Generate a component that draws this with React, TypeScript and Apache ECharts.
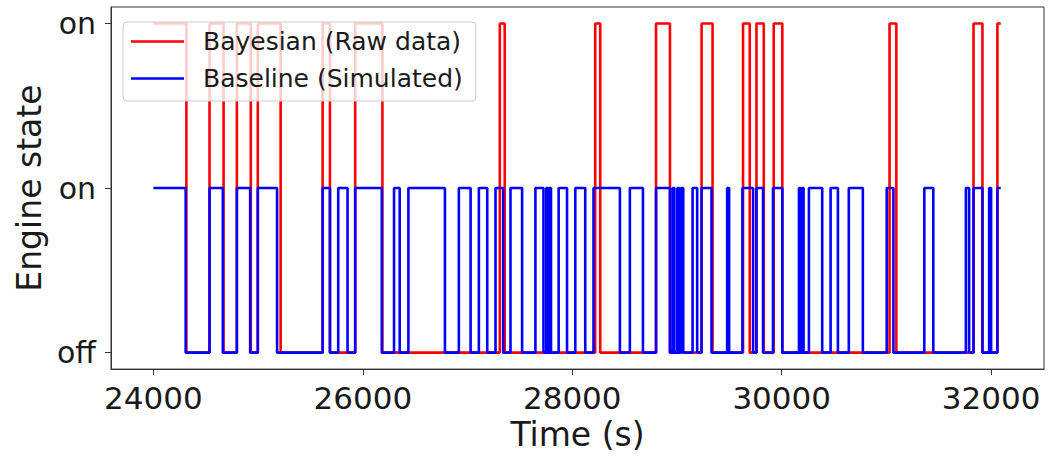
import React, { useEffect, useRef } from "react";
import * as echarts from "echarts";

// Step series: [time (s), state] – state holds from that time until the next point
const bayesianTimes = [24000, 24315, 24536, 24670, 24797, 24930, 24997, 25215, 25616, 25686, 25927, 26187, 27308, 27355, 28219, 28267, 28800, 28933, 29235, 29340, 29631, 29695, 29759, 29829, 29924, 30006, 31030, 31095, 31832, 31917, 32060, 32092];
const bayesianStates = [2, 0, 2, 0, 2, 0, 2, 0, 2, 0, 2, 0, 2, 0, 2, 0, 2, 0, 2, 0, 2, 0, 2, 0, 2, 0, 2, 0, 2, 0, 2, 2];

const baselineTimes = [24000, 24308, 24536, 24663, 24797, 24924, 24997, 25181, 25616, 25686, 25765, 25854, 25927, 26181, 26298, 26352, 26435, 26784, 26917, 27029, 27108, 27188, 27267, 27340, 27410, 27521, 27648, 27725, 27752, 27765, 27778, 27797, 27870, 27950, 28029, 28124, 28203, 28455, 28550, 28675, 28800, 28933, 28959, 28975, 29003, 29022, 29038, 29060, 29149, 29193, 29235, 29330, 29479, 29498, 29625, 29727, 29759, 29822, 29917, 30006, 30165, 30181, 30190, 30209, 30260, 30387, 30467, 30537, 30641, 30775, 31003, 31067, 31362, 31448, 31759, 31790, 31832, 31917, 31981, 32000, 32060, 32092];
const baselineStates = [1, 0, 1, 0, 1, 0, 1, 0, 1, 0, 1, 0, 1, 0, 1, 0, 1, 0, 1, 0, 1, 0, 1, 0, 1, 0, 1, 0, 1, 0, 1, 0, 1, 0, 1, 0, 1, 0, 1, 0, 1, 0, 1, 0, 1, 0, 1, 0, 1, 0, 1, 0, 1, 0, 1, 0, 1, 0, 1, 0, 1, 0, 1, 0, 1, 0, 1, 0, 1, 0, 1, 0, 1, 0, 1, 0, 1, 0, 1, 0, 1, 1];

const xTicks = [24000, 26000, 28000, 30000, 32000];
const yTicks = [0, 1, 2];
const yTickLabels = ["off", "on", "on"];

const seriesNames = ["Bayesian (Raw data)", "Baseline (Simulated)"];

const FONT = "DejaVu Sans";

export default function App() {
  const ref = useRef<HTMLDivElement>(null);
  useEffect(() => {
    if (!ref.current) return;
    const chart = echarts.init(ref.current, null, { renderer: "svg" });
    const bay = bayesianTimes.map((t, i) => [t, bayesianStates[i]]);
    const base = baselineTimes.map((t, i) => [t, baselineStates[i]]);
    chart.setOption({
      animation: false,
      backgroundColor: "#ffffff",
      grid: {
        left: 111,
        right: 5,
        top: 7,
        bottom: 84,
        show: true,
        borderColor: "#333333",
        borderWidth: 1,
        backgroundColor: "transparent",
      },
      legend: {
        orient: "vertical",
        left: 123,
        top: 22,
        data: seriesNames,
        icon: "rect",
        itemWidth: 53,
        itemHeight: 2.6,
        itemGap: 12,
        padding: [7, 13, 10, 8],
        backgroundColor: "rgba(255,255,255,0.8)",
        borderColor: "#cccccc",
        borderWidth: 1,
        borderRadius: 4,
        textStyle: {
          fontFamily: FONT,
          fontSize: 25,
          lineHeight: 25,
          color: "#1a1a1a",
          padding: [0, 0, 0, 14],
        },
        z: 10,
      },
      xAxis: {
        type: "value",
        min: 23595,
        max: 32505,
        name: "Time (s)",
        nameLocation: "middle",
        nameGap: 48,
        nameTextStyle: { fontFamily: FONT, fontSize: 33, color: "#1a1a1a" },
        axisLine: { show: true, onZero: false, lineStyle: { color: "#333333" } },
        axisTick: { show: true, length: 6, customValues: xTicks, lineStyle: { color: "#333333" } },
        axisLabel: {
          customValues: xTicks,
          formatter: (v: number) => String(v),
          fontFamily: FONT,
          fontSize: 31,
          color: "#1a1a1a",
          margin: 13,
        },
        splitLine: { show: false },
      },
      yAxis: {
        type: "value",
        min: -0.1,
        max: 2.1,
        name: "Engine state",
        nameLocation: "middle",
        nameRotate: 90,
        nameGap: 64,
        nameTextStyle: { fontFamily: FONT, fontSize: 33, color: "#1a1a1a" },
        axisLine: { show: true, onZero: false, lineStyle: { color: "#333333" } },
        axisTick: { show: true, length: 6, customValues: yTicks, lineStyle: { color: "#333333" } },
        axisLabel: {
          customValues: yTicks,
          formatter: (v: number) => yTickLabels[yTicks.indexOf(Math.round(v))] ?? "",
          fontFamily: FONT,
          fontSize: 30,
          color: "#1a1a1a",
          margin: 15,
        },
        splitLine: { show: false },
      },
      series: [
        {
          name: seriesNames[0],
          type: "line",
          step: "end",
          data: bay,
          showSymbol: false,
          symbol: "none",
          lineStyle: { color: "#ff0000", width: 2.6 },
          itemStyle: { color: "#ff0000" },
          z: 2,
        },
        {
          name: seriesNames[1],
          type: "line",
          step: "end",
          data: base,
          showSymbol: false,
          symbol: "none",
          lineStyle: { color: "#0000ff", width: 2.6 },
          itemStyle: { color: "#0000ff" },
          z: 3,
        },
      ],
    });
    return () => chart.dispose();
  }, []);
  return (
    <div
      ref={ref}
      style={{ position: "fixed", left: 0, top: 0, width: 1049, height: 456 }}
    />
  );
}
